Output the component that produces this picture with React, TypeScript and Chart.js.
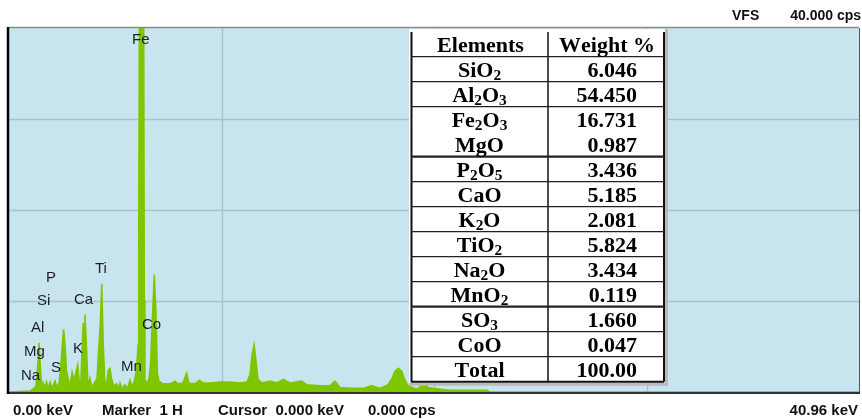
import React, { useEffect, useRef } from "react";
import { Chart, registerables } from "chart.js";

Chart.register(...registerables);

// ---- spectrum data (keV vs cps) ----
const energyKeV = [
  0, 1.01, 1.2, 1.3, 1.37, 1.45, 1.52, 1.59, 1.66, 1.73, 1.81, 1.88, 1.98, 2.07, 2.22, 2.31, 2.41, 2.49, 2.55, 2.63,
  2.7, 2.77, 2.84, 2.94, 3.04, 3.13, 3.23, 3.31, 3.37, 3.45, 3.52, 3.58, 3.62, 3.66, 3.73, 3.81, 3.9, 4.0, 4.14, 4.24,
  4.31, 4.39, 4.47, 4.54, 4.63, 4.72, 4.79, 4.87, 4.94, 5.04, 5.19, 5.28, 5.35, 5.45, 5.59, 5.71, 5.83, 5.93, 6.02, 6.14,
  6.22, 6.25, 6.28, 6.49, 6.52, 6.55, 6.65, 6.75, 6.82, 6.89, 7.0, 7.08, 7.15, 7.23, 7.42, 7.76, 8.0, 8.14, 8.38, 8.56,
  8.67, 8.96, 9.17, 9.35, 9.69, 10.17, 10.65, 11.13, 11.47, 11.61, 11.71, 11.81, 11.9, 12.0, 12.19, 12.58, 12.9, 13.22, 13.54, 14.1,
  14.35, 14.99, 15.47, 15.71, 15.95, 16.43, 17.06, 17.48, 17.88, 18.26, 18.46, 18.6, 18.76, 18.92, 19.08, 19.23, 19.65, 20.05, 20.19, 20.43,
  21.25, 23.03, 23.18, 40.96,
];
const countsCps = [
  0, 0.1, 0.4, 0.7, 2.4, 5.4, 2.4, 0.4, 1.0, 0.4, 1.1, 0.4, 1.1, 0.4, 1.2, 0.5, 1.0, 2.7, 4.6, 6.9,
  5.2, 2.4, 1.6, 0.7, 2.2, 1.3, 2.2, 3.0, 1.5, 0.4, 4.6, 7.6, 6.8, 8.5, 5.2, 0.5, 1.5, 0.5, 1.1, 1.5,
  4.3, 7.1, 11.9, 5.4, 0.5, 1.3, 2.4, 2.6, 1.5, 0.7, 0.9, 0.4, 1.0, 0.4, 0.8, 0.4, 1.3, 0.7, 1.0, 2.4,
  5.2, 15.6, 42, 42, 10.1, 1.3, 1.0, 1.5, 3.0, 7.1, 12.9, 9.0, 2.1, 1.2, 0.9, 0.9, 1.2, 0.9, 1.0, 2.1,
  1.0, 0.9, 1.3, 1.0, 1.0, 1.1, 1.1, 1.0, 1.1, 1.9, 4.1, 5.2, 3.5, 1.4, 1.0, 1.2, 1.0, 1.4, 1.0, 1.2,
  0.8, 0.7, 0.7, 1.2, 0.5, 0.4, 0.4, 0.7, 0.4, 0.8, 1.5, 2.3, 2.6, 2.3, 1.3, 0.7, 0.3, 1.0, 0.5, 0.4,
  0.2, 0.2, 0, 0,
];

// ---- peak labels ----
const peakLabels = ["Fe", "Ti", "Ca", "Co", "P", "Si", "Al", "Mg", "Na", "S", "K", "Mn"];
const peakLabelKeV = [5.93, 4.14, 3.13, 6.41, 1.78, 1.35, 1.06, 0.72, 0.58, 2.02, 3.08, 5.4];
const peakLabelCps = [38.2, 13.1, 9.7, 6.9, 12.1, 9.6, 6.6, 4.0, 1.3, 2.2, 4.3, 2.3];

// ---- axis settings ----
const xMaxKeV = 40.96;
const yMaxCps = 40;
const gridKeV = [10.24, 20.48, 30.72];
const gridCps = [10, 20, 30];

// ---- table ----
const tableHeaders = ["Elements", "Weight %"];
const oxides = ["SiO_2", "Al_2O_3", "Fe_2O_3", "MgO", "P_2O_5", "CaO", "K_2O", "TiO_2", "Na_2O", "MnO_2", "SO_3", "CoO", "Total"];
const weights = ["6.046", "54.450", "16.731", "0.987", "3.436", "5.185", "2.081", "5.824", "3.434", "0.119", "1.660", "0.047", "100.00"];

// ---- status texts ----
const topRightLeft = "VFS";
const topRightRight = "40.000 cps";
const bottomTexts = ["0.00 keV", "Marker  1 H", "Cursor  0.000 keV", "0.000 cps", "40.96 keV"];

const GREEN = "#7ec600";
const PLOT_BG = "#c8e5ef";
const GRID = "#a6c3cd";
const SX = 1.1;

function drawScaled(ctx: CanvasRenderingContext2D, t: string, x: number, y: number) {
  ctx.save();
  ctx.translate(x, y);
  ctx.scale(SX, 1);
  ctx.fillText(t, 0, 0);
  ctx.restore();
}

function drawRich(ctx: CanvasRenderingContext2D, label: string, cx: number, base: number, main: string, sub: string) {
  const parts: { t: string; s: boolean }[] = [];
  for (let i = 0; i < label.length; i++) {
    if (label[i] === "_") {
      parts.push({ t: label[i + 1], s: true });
      i++;
    } else {
      parts.push({ t: label[i], s: false });
    }
  }
  let w = 0;
  for (const p of parts) {
    ctx.font = p.s ? sub : main;
    w += ctx.measureText(p.t).width * SX;
  }
  let x = cx - w / 2;
  ctx.textAlign = "left";
  for (const p of parts) {
    ctx.font = p.s ? sub : main;
    drawScaled(ctx, p.t, x, p.s ? base + 3 : base);
    x += ctx.measureText(p.t).width * SX;
  }
}

const decor = {
  id: "decor",
  beforeDraw(chart: any) {
    const { ctx, chartArea: a, scales } = chart;
    ctx.save();
    ctx.fillStyle = "#ffffff";
    ctx.fillRect(0, 0, chart.width, chart.height);
    ctx.fillStyle = PLOT_BG;
    ctx.fillRect(a.left, a.top, a.right - a.left, a.bottom - a.top);
    ctx.strokeStyle = GRID;
    ctx.lineWidth = 1.5;
    for (const k of gridKeV) {
      const x = Math.round(scales.x.getPixelForValue(k)) + 0.5;
      ctx.beginPath();
      ctx.moveTo(x, a.top);
      ctx.lineTo(x, a.bottom);
      ctx.stroke();
    }
    for (const c of gridCps) {
      const y = Math.round(scales.y.getPixelForValue(c)) + 0.5;
      ctx.beginPath();
      ctx.moveTo(a.left, y);
      ctx.lineTo(a.right, y);
      ctx.stroke();
    }
    ctx.restore();
  },
  afterDraw(chart: any) {
    const { ctx, chartArea: a, scales } = chart;
    ctx.save();
    // borders
    ctx.strokeStyle = "#8c8c8c";
    ctx.lineWidth = 1.5;
    ctx.beginPath();
    ctx.moveTo(a.left, a.top - 0.5);
    ctx.lineTo(a.right, a.top - 0.5);
    ctx.stroke();
    ctx.strokeStyle = "#555";
    ctx.lineWidth = 1;
    ctx.beginPath();
    ctx.moveTo(a.right + 0.5, a.top);
    ctx.lineTo(a.right + 0.5, a.bottom);
    ctx.stroke();
    ctx.strokeStyle = "#333";
    ctx.lineWidth = 2;
    ctx.beginPath();
    ctx.moveTo(a.left, a.bottom + 1);
    ctx.lineTo(a.right + 1, a.bottom + 1);
    ctx.stroke();
    ctx.strokeStyle = "#000";
    ctx.lineWidth = 2.5;
    ctx.beginPath();
    ctx.moveTo(a.left - 1, a.top - 1);
    ctx.lineTo(a.left - 1, a.bottom + 2);
    ctx.stroke();

    // peak labels
    ctx.fillStyle = "#1c1c2c";
    ctx.font = "15px 'Liberation Sans', Arial, sans-serif";
    ctx.textAlign = "left";
    ctx.textBaseline = "alphabetic";
    peakLabels.forEach((name, i) => {
      ctx.fillText(name, scales.x.getPixelForValue(peakLabelKeV[i]), scales.y.getPixelForValue(peakLabelCps[i]));
    });

    // table
    const tL = 411, tR = 664, tDiv = 548, tTop = 29, hdrBottom = 56.7, rowH = 25;
    const tBottom = hdrBottom + rowH * oxides.length;
    ctx.fillStyle = "#b9b9b9";
    ctx.fillRect(tL - 2, tTop, tR - tL + 6, tBottom - tTop + 4);
    ctx.fillStyle = "#ffffff";
    ctx.fillRect(tL - 2, tTop, tR - tL + 3, tBottom - tTop + 1);
    ctx.strokeStyle = "#111";
    ctx.lineWidth = 2;
    ctx.beginPath();
    ctx.moveTo(tL + 0.5, 32);
    ctx.lineTo(tL + 0.5, tBottom);
    ctx.moveTo(tR, 32);
    ctx.lineTo(tR, tBottom);
    ctx.moveTo(tL, tBottom);
    ctx.lineTo(tR, tBottom);
    ctx.stroke();
    ctx.lineWidth = 1.5;
    ctx.beginPath();
    ctx.moveTo(tDiv, 32);
    ctx.lineTo(tDiv, tBottom);
    ctx.stroke();
    ctx.strokeStyle = "#222";
    for (let i = 0; i < oxides.length; i++) {
      if (i === 3) continue; // no divider between Fe2O3 and MgO
      const y = hdrBottom + rowH * i;
      ctx.lineWidth = i === 4 || i === 10 ? 2.2 : 1.3;
      ctx.beginPath();
      ctx.moveTo(tL, y);
      ctx.lineTo(tR, y);
      ctx.stroke();
    }
    const mainF = "bold 20px 'Liberation Serif', 'Times New Roman', serif";
    const subF = "bold 14px 'Liberation Serif', 'Times New Roman', serif";
    ctx.fillStyle = "#000";
    ctx.textBaseline = "alphabetic";
    drawRich(ctx, tableHeaders[0], (tL + tDiv) / 2 + 1, 51.5, mainF, subF);
    drawRich(ctx, tableHeaders[1], (tDiv + tR) / 2 + 1, 51.5, mainF, subF);
    oxides.forEach((ox, i) => {
      const base = hdrBottom + rowH * i + 20;
      drawRich(ctx, ox, (tL + tDiv) / 2, base, mainF, subF);
      ctx.font = mainF;
      ctx.textAlign = "left";
      const w = ctx.measureText(weights[i]).width * SX;
      drawScaled(ctx, weights[i], 637 - w, base);
    });

    // status texts
    ctx.fillStyle = "#111";
    ctx.font = "bold 14px 'Liberation Sans', Arial, sans-serif";
    ctx.textAlign = "left";
    ctx.fillText(topRightLeft, 732, 20);
    ctx.textAlign = "right";
    ctx.fillText(topRightRight, 861, 20);
    ctx.font = "bold 15px 'Liberation Sans', Arial, sans-serif";
    ctx.textAlign = "left";
    const bx = [13, 102, 218, 368];
    for (let i = 0; i < 4; i++) ctx.fillText(bottomTexts[i], bx[i], 415);
    ctx.textAlign = "right";
    ctx.fillText(bottomTexts[4], 858, 415);
    ctx.restore();
  },
};

export default function App() {
  const ref = useRef<HTMLCanvasElement | null>(null);
  useEffect(() => {
    if (!ref.current) return;
    const chart = new Chart(ref.current, {
      type: "line",
      data: {
        datasets: [
          {
            data: energyKeV.map((x, i) => ({ x, y: countsCps[i] })),
            borderColor: GREEN,
            backgroundColor: GREEN,
            borderWidth: 1.5,
            pointRadius: 0,
            tension: 0,
            fill: "origin",
          },
        ],
      },
      options: {
        animation: false,
        responsive: false,
        events: [],
        layout: { padding: { left: 9, right: 3, top: 28, bottom: 27 } },
        scales: {
          x: { type: "linear", min: 0, max: xMaxKeV, display: false },
          y: { type: "linear", min: 0, max: yMaxCps, display: false },
        },
        plugins: { legend: { display: false }, tooltip: { enabled: false } },
      },
      plugins: [decor],
    });
    return () => chart.destroy();
  }, []);
  return (
    <div style={{ position: "absolute", left: 0, top: 0, width: 862, height: 419, background: "#fff" }}>
      <canvas ref={ref} width={862} height={419} style={{ display: "block" }} />
    </div>
  );
}
